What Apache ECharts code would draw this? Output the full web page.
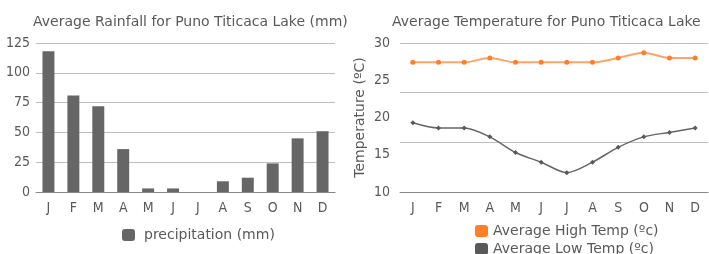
<!DOCTYPE html>
<html>
<head>
<meta charset="utf-8">
<script src="https://cdn.jsdelivr.net/npm/echarts@6/dist/echarts.min.js"></script>
<style>
  html, body { margin: 0; padding: 0; background: #fff; }
  #main { width: 709px; height: 254px; }
</style>
</head>
<body>
<div id="main"></div>
<script>
// data
var months = ['J', 'F', 'M', 'A', 'M', 'J', 'J', 'A', 'S', 'O', 'N', 'D'];
var rainfall = [118, 81, 72, 36, 3, 3, 0, 9, 12, 24, 45, 51];
var highTemp = [27.4, 27.4, 27.4, 28, 27.4, 27.4, 27.4, 27.4, 28, 28.7, 28, 28];
var lowTemp = [19.3, 18.6, 18.6, 17.4, 15.3, 14, 12.6, 14, 16, 17.4, 18, 18.6];

var font = 'DejaVu Sans';
var tickFont = 'DejaVu Sans Condensed';
var txt = '#595959';

var myChart = echarts.init(document.getElementById('main'));

var option = {
  animation: false,
  textStyle: { fontFamily: font },
  title: [
    {
      text: 'Average Rainfall for Puno Titicaca Lake (mm)',
      left: 28, top: 10,
      textStyle: { color: txt, fontSize: 14, fontWeight: 'normal', fontFamily: font }
    },
    {
      text: 'Average Temperature for Puno Titicaca Lake',
      left: 387, top: 10,
      textStyle: { color: txt, fontSize: 14, fontWeight: 'normal', fontFamily: font }
    }
  ],
  legend: [
    {
      data: ['precipitation (mm)'],
      left: 117, top: 223,
      itemWidth: 13, itemHeight: 12, icon: 'roundRect',
      textStyle: { color: txt, fontSize: 14, fontFamily: font, padding: [0, 0, 0, 4] }
    },
    {
      data: ['Average High Temp (ºc)', 'Average Low Temp (ºc)'],
      orient: 'vertical',
      left: 470, top: 219, height: 60, itemGap: 4,
      itemWidth: 13, itemHeight: 12, icon: 'roundRect',
      textStyle: { color: txt, fontSize: 14, fontFamily: font }
    }
  ],
  grid: [
    { left: 36, right: 374, top: 43, bottom: 62 },
    { left: 400, right: 1, top: 43, bottom: 62 }
  ],
  xAxis: [
    {
      type: 'category', gridIndex: 0, data: months,
      axisLine: { lineStyle: { color: '#888' } },
      axisTick: { length: 4, lineStyle: { color: '#888' } },
      axisLabel: { color: txt, fontSize: 14, margin: 9, fontFamily: tickFont }
    },
    {
      type: 'category', gridIndex: 1, data: months,
      axisLine: { lineStyle: { color: '#888' } },
      axisTick: { length: 4, lineStyle: { color: '#888' } },
      axisLabel: { color: txt, fontSize: 14, margin: 9, fontFamily: tickFont }
    }
  ],
  yAxis: [
    {
      type: 'value', gridIndex: 0, min: 0, max: 125, interval: 25,
      axisLabel: { color: txt, fontSize: 14, margin: 6, fontFamily: tickFont },
      splitLine: { lineStyle: { color: '#bfbfbf' } }
    },
    {
      type: 'value', gridIndex: 1, min: 10, max: 30, interval: 5,
      name: 'Temperature (ºC)', nameLocation: 'middle', nameGap: 33,
      nameTextStyle: { color: txt, fontSize: 14, fontFamily: font },
      axisLabel: { color: txt, fontSize: 14, margin: 10, fontFamily: tickFont },
      splitLine: { show: false }
    },
    {
      // gridlines only, split in thirds as in the source
      type: 'value', gridIndex: 1, min: 0, max: 3, interval: 1,
      axisLabel: { show: false },
      axisLine: { show: false }, axisTick: { show: false },
      splitLine: { lineStyle: { color: '#bfbfbf' } }
    }
  ],
  series: [
    {
      name: 'precipitation (mm)', type: 'bar',
      xAxisIndex: 0, yAxisIndex: 0,
      barWidth: '48%',
      itemStyle: { color: '#666666' },
      data: rainfall
    },
    {
      name: 'Average High Temp (ºc)', type: 'line',
      xAxisIndex: 1, yAxisIndex: 1,
      smooth: 0.3, symbol: 'circle', symbolSize: 5,
      itemStyle: { color: '#ff7f27' },
      lineStyle: { color: '#fca46a', width: 2 },
      data: highTemp
    },
    {
      name: 'Average Low Temp (ºc)', type: 'line',
      xAxisIndex: 1, yAxisIndex: 1,
      smooth: 0.3, symbol: 'diamond', symbolSize: 5,
      itemStyle: { color: '#595959' },
      lineStyle: { color: '#666666', width: 1.5 },
      data: lowTemp
    }
  ]
};

myChart.setOption(option);

window.addEventListener('resize', function () {
  myChart.resize();
});
</script>
</body>
</html>
